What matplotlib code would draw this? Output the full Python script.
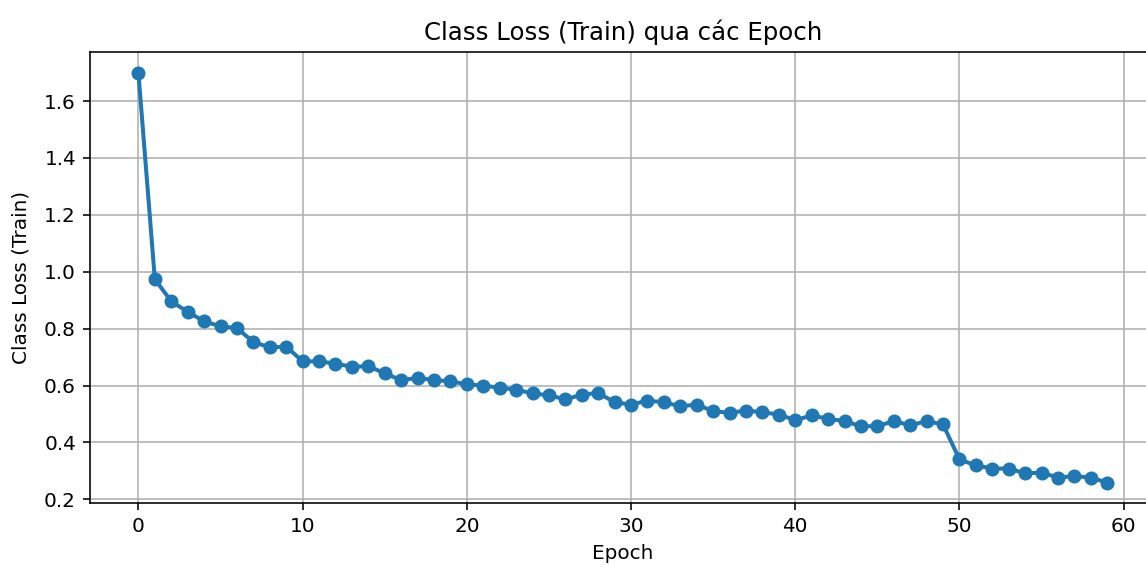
import matplotlib
matplotlib.use("Agg")
import matplotlib.pyplot as plt

epochs = list(range(60))
class_loss_train = [
    1.700, 0.974, 0.896, 0.859, 0.826, 0.808, 0.802, 0.753, 0.734, 0.737,
    0.685, 0.685, 0.677, 0.666, 0.668, 0.643, 0.619, 0.627, 0.619, 0.615,
    0.604, 0.600, 0.592, 0.586, 0.572, 0.566, 0.551, 0.568, 0.574, 0.541,
    0.533, 0.547, 0.541, 0.527, 0.533, 0.510, 0.504, 0.512, 0.506, 0.498,
    0.478, 0.495, 0.483, 0.475, 0.457, 0.457, 0.475, 0.460, 0.475, 0.463,
    0.340, 0.319, 0.308, 0.308, 0.291, 0.294, 0.276, 0.282, 0.276, 0.259,
]

dpi = 144
fig = plt.figure(figsize=(1146 / dpi, 565 / dpi), dpi=dpi)
# axes run slightly past the right edge, as in the cropped original
ax = fig.add_axes([0.0785, 0.1097, 0.930, 0.798])
ax.plot(epochs, class_loss_train, marker="o", color="#1f77b4", linewidth=2)
ax.set_title("Class Loss (Train) qua các Epoch", fontsize=12.2)
ax.set_xlabel("Epoch")
ax.set_ylabel("Class Loss (Train)", labelpad=7)
ax.grid(True)
fig.savefig("out.png", dpi=dpi)
